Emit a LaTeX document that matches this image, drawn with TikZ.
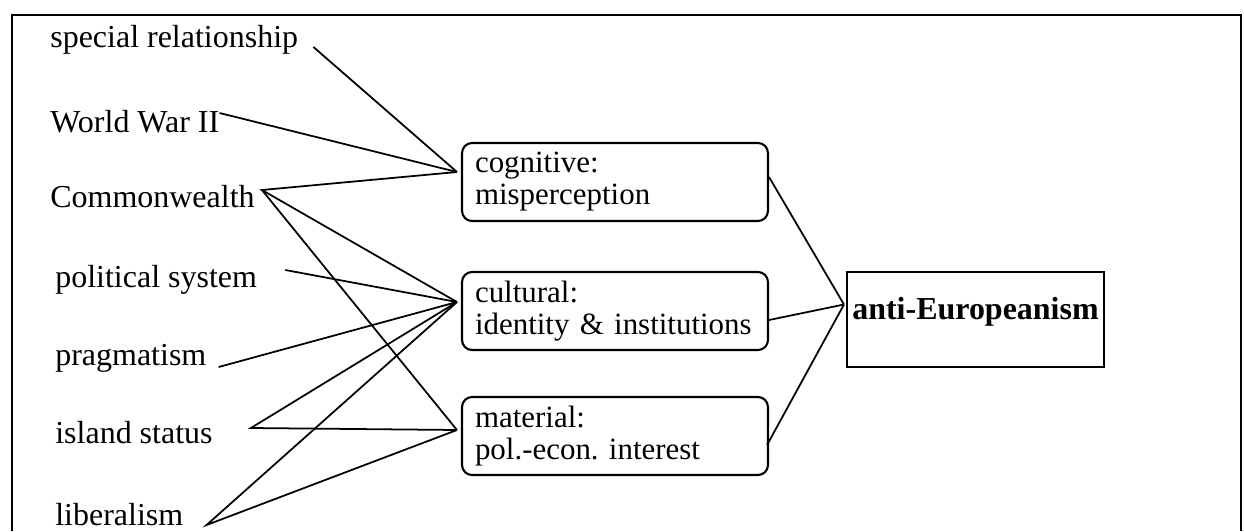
\documentclass[tikz,border=0pt]{standalone}
\usepackage{fontspec}
\setmainfont{Liberation Serif}
\usetikzlibrary{calc}

\newcommand{\diagfont}{\fontsize{18.2}{18.4}\selectfont}
\newcommand{\boxfont}{\fontsize{17.6}{18.2}\selectfont}

\tikzset{
        cause/.style={inner sep=0pt, anchor=base west},
        factor/.style={draw, line width=1.2pt, rounded corners=0.2cm, align=left,
                font=\boxfont, text width=5.6cm, inner xsep=0.26cm,
                minimum height=1.56cm},
        outcome/.style={draw, line width=1.2pt, font={\diagfont\bfseries},
                minimum width=5.14cm, inner xsep=1pt, inner ysep=0pt,
                text height=0.95cm, text depth=0.95cm},
        link/.style={line width=1pt}
}

\begin{document}
\begin{tikzpicture}[x=0.02cm, y=-0.02cm, font=\diagfont]
        \useasboundingbox (0,0) rectangle (1244,531);
        \draw[line width=1.4pt] (12,531) |- (1241,15) -- (1241,531);

        % causes on the left
        \node[cause] (spec) at (50,47) {special relationship};
        \node[cause] (ww) at (50,132) {World War II};
        \node[cause] (cw) at (50,207) {Commonwealth};
        \node[cause] (pol) at (55,287) {political system};
        \node[cause] (prag) at (55,365) {pragmatism};
        \node[cause] (isl) at (55,443) {island status};
        \node[cause] (lib) at (55,525) {liberalism};

        % the three explanations
        \node[factor] (cog) at (615,182) {cognitive:\\misperception};
        \node[factor] (cult) at (615,311) {cultural:\\identity \& institutions};
        \node[factor] (mat) at (615,436) {material:\\pol.-econ.\ interest};

        \node[outcome] (anti) at (975.5,319.5) {anti-Europeanism};

        % where the lines meet
        \coordinate (cog-in) at ($(cog.west)+(-4,-10)$);
        \coordinate (cult-in) at ($(cult.west)+(-4,-9)$);
        \coordinate (mat-in) at ($(mat.west)+(-4,-6)$);
        \coordinate (hub) at ($(anti.west)+(-2,-15)$);

        \draw[link] ($(spec.base east)+(15,0)$) -- (cog-in);
        \draw[link] ($(ww.base east)+(0,-19)$) -- (cog-in);
        \draw[link] (cult-in) -- ($(cw.base east)+(7,-17)$) -- (cog-in);
        \draw[link] ($(cw.base east)+(7,-17)$) -- (mat-in);
        \draw[link] ($(pol.base east)+(28,-17)$) -- (cult-in);
        \draw[link] ($(prag.base east)+(12,2)$) -- (cult-in);
        \draw[link] (cult-in) -- ($(isl.base east)+(38,-15)$) -- (mat-in);
        \draw[link] (cult-in) -- ($(lib.base east)+(23,0)$) -- (mat-in);

        \draw[link] ($(cog.east)+(0,-5)$) -- (hub);
        \draw[link] ($(cult.east)+(0,9)$) -- (hub);
        \draw[link] ($(mat.east)+(-2,9)$) -- (hub);
\end{tikzpicture}
\end{document}
